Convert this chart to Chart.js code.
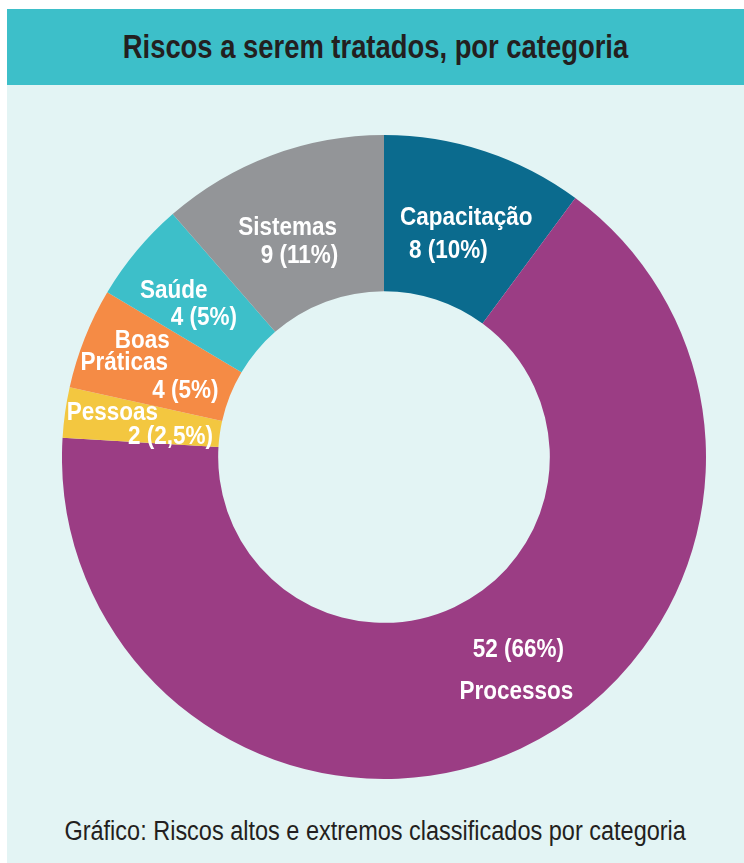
<!DOCTYPE html>
<html>
<head>
<meta charset="utf-8">
<script src="https://cdn.jsdelivr.net/npm/chart.js@4"></script>
<style>
  html, body { margin: 0; padding: 0; background: #fff; }
  #panel {
    position: absolute; left: 7px; top: 9px; width: 737px; height: 854px;
    background: #e3f4f4;
  }
  #header {
    position: absolute; left: 0; top: 0; width: 737px; height: 76px;
    background: #3dbfc9; text-align: center;
  }
  #header span {
    display: inline-block; transform: scaleX(0.83);
    font-family: "Liberation Sans Narrow", "Liberation Sans", sans-serif;
    font-weight: bold; font-size: 33px; color: #231f20; line-height: 76px;
    white-space: nowrap;
  }
  #caption {
    position: absolute; left: 0; top: 806px; width: 737px; text-align: center;
  }
  #caption span {
    display: inline-block; transform: scaleX(0.87);
    font-family: "Liberation Sans Narrow", "Liberation Sans", sans-serif;
    font-size: 27px; color: #231f20; white-space: nowrap; line-height: 32px;
  }
  #wrap { position: absolute; left: 62px; top: 135px; width: 644px; height: 644px; }
</style>
</head>
<body>
<div id="panel">
  <div id="header"><span>Riscos a serem tratados, por categoria</span></div>
  <div id="caption"><span>Gráfico: Riscos altos e extremos classificados por categoria</span></div>
</div>
<div id="wrap"><canvas id="chartdonut"></canvas></div>
<script>
const categorias = ['Capacitação', 'Processos', 'Pessoas', 'Boas Práticas', 'Saúde', 'Sistemas'];
const riscos = [8, 52, 2, 4, 4, 9];
const percentuais = ['10%', '66%', '2,5%', '5%', '5%', '11%'];
const cores = ['#0b6b8e', '#9b3d84', '#f3c740', '#f58b45', '#3dbfc9', '#939598'];

// text lines of each slice label, with offsets from the slice middle
const rotulos = [
  [['Capacitação', 6, -7], ['8 (10%)', -12, 26]],
  [['52 (66%)', 31, -28], ['Processos', 29, 14]],
  [['Pessoas', -30, -10], ['2 (2,5%)', 28, 14]],
  [['Boas', -15, -26], ['Práticas', -33, -4], ['4 (5%)', 28, 24]],
  [['Saúde', -23, -10], ['4 (5%)', 7, 17]],
  [['Sistemas', -11, 0], ['9 (11%)', 1, 28]]
];

const labelPlugin = {
  id: 'sliceLabels',
  afterDatasetsDraw(chart) {
    const ctx = chart.ctx;
    const arcs = chart.getDatasetMeta(0).data;
    ctx.save();
    ctx.fillStyle = '#ffffff';
    ctx.font = 'bold 25px "Liberation Sans Narrow", "Liberation Sans", sans-serif';
    ctx.textAlign = 'center';
    ctx.textBaseline = 'middle';
    arcs.forEach((arc, i) => {
      const p = arc.getProps(['x', 'y', 'startAngle', 'endAngle', 'innerRadius', 'outerRadius']);
      const mid = (p.startAngle + p.endAngle) / 2;
      const r = (p.innerRadius + p.outerRadius) / 2;
      const cx = p.x + Math.cos(mid) * r;
      const cy = p.y + Math.sin(mid) * r;
      rotulos[i].forEach(l => {
        ctx.save();
        ctx.translate(cx + l[1], cy + l[2]);
        ctx.scale(0.9, 1); // condensed look
        ctx.fillText(l[0], 0, 0);
        ctx.restore();
      });
    });
    ctx.restore();
  }
};

const ctx = document.getElementById('chartdonut').getContext('2d');
const myChart = new Chart(ctx, {
  type: 'doughnut',
  data: {
    labels: categorias.map((c, i) => c + ' ' + riscos[i] + ' (' + percentuais[i] + ')'),
    datasets: [{
      data: riscos,
      backgroundColor: cores,
      borderWidth: 0
    }]
  },
  options: {
    responsive: true,
    maintainAspectRatio: false,
    animation: false,
    cutout: '51.5%',
    layout: { padding: 0 },
    plugins: {
      legend: { display: false },
      tooltip: { enabled: false }
    }
  },
  plugins: [labelPlugin]
});
</script>
</body>
</html>
